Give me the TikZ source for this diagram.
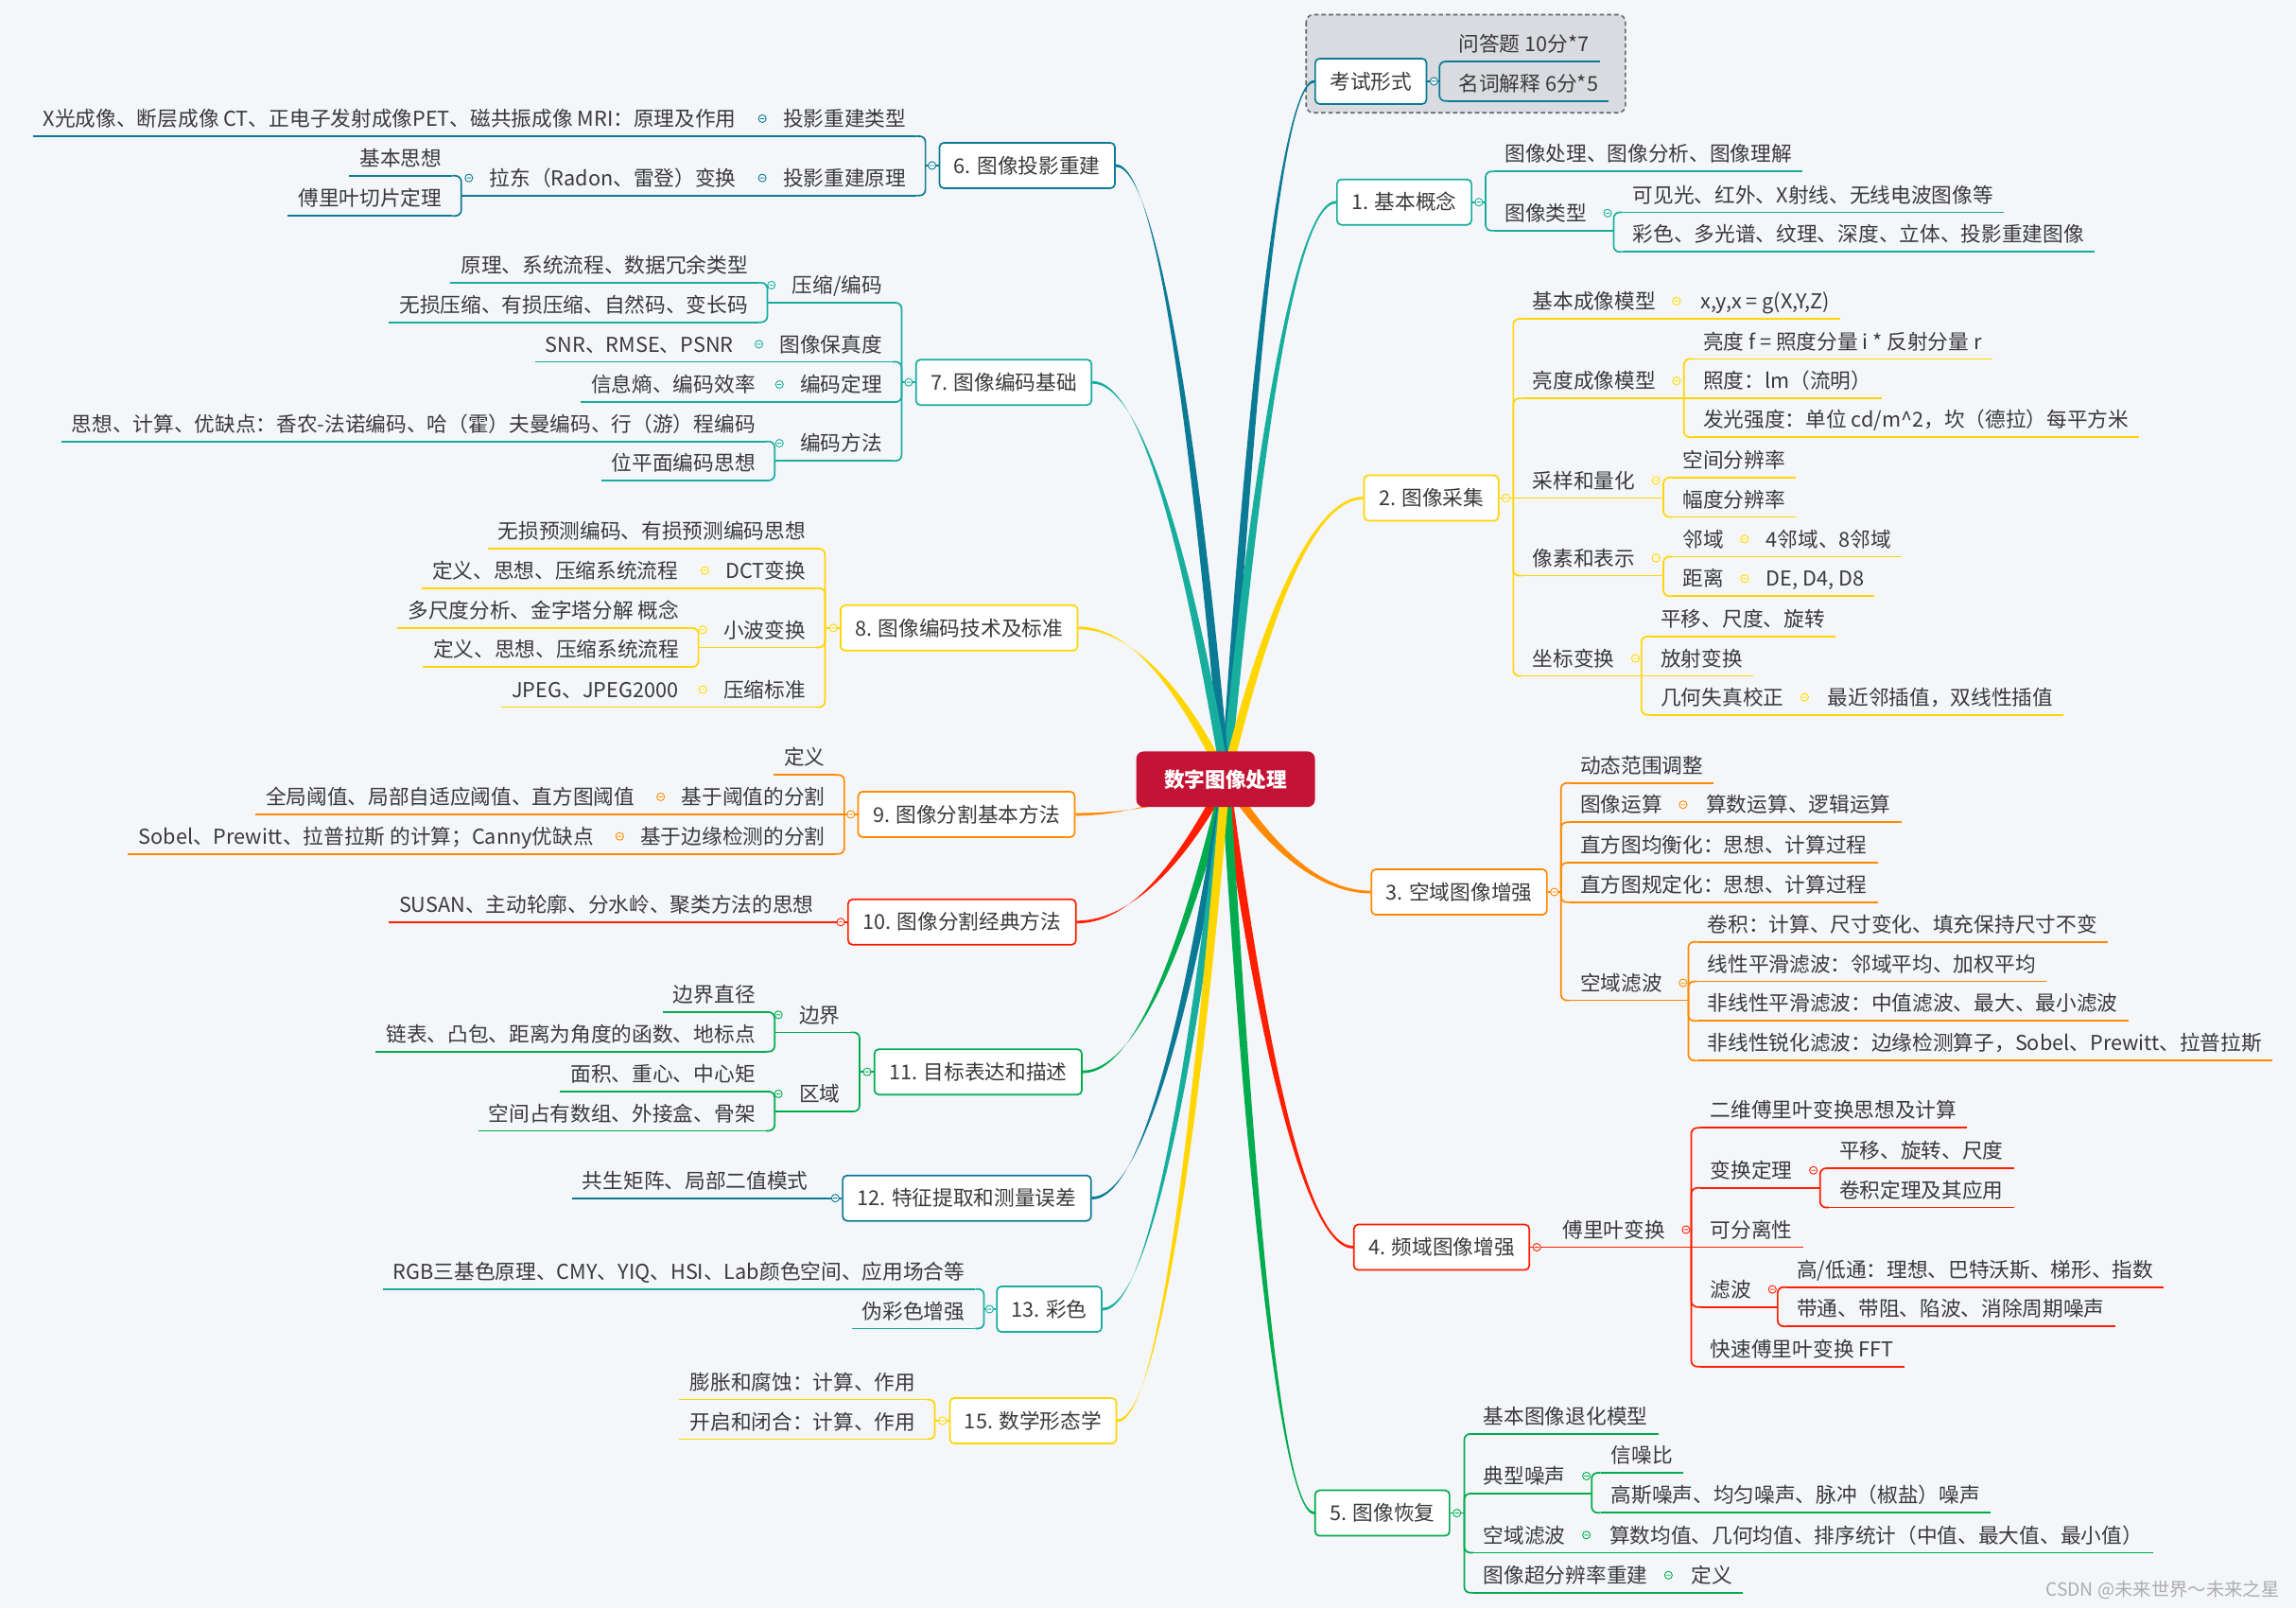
\documentclass[tikz,border=0pt]{standalone}
\usepackage{fontspec}
\setmainfont{Noto Sans CJK SC}
\usetikzlibrary{calc}

\definecolor{paper}{HTML}{F4F6FA}
\definecolor{ink}{HTML}{3A3A3A}
\definecolor{rootred}{HTML}{C41436}
\definecolor{petrol}{HTML}{0B7A95}
\definecolor{aqua}{HTML}{17AE9E}
\definecolor{sun}{HTML}{FFD600}
\definecolor{tangerine}{HTML}{FF8A00}
\definecolor{scarlet}{HTML}{FF1E00}
\definecolor{leaf}{HTML}{00AC4E}
\definecolor{grpfill}{HTML}{D9DBE0}
\definecolor{grpline}{HTML}{63676D}
\definecolor{wmgray}{HTML}{ADADAD}

\newcommand{\mapfont}{\fontsize{14}{16}\selectfont}
% small collapse marker
\newcommand{\fold}[2]{\draw[draw=#1,fill=white,line width=0.6pt] #2 circle (2.6pt) ++(-1.4,0) -- ++(2.8,0);}
% tapered main branch from the root to a topic
\newcommand{\branch}[2]{%
  \fill[#1] let \p1=(ctr), \p2=(#2),
      \p3=({0.25*(\x2-\x1)},{0.5*(\y2-\y1)}),
      \n1={veclen(\x3,\y3)},
      \p4=({-3*\y3/\n1},{3*\x3/\n1}),
      \n2={0.4*(\x2-\x1)}
    in (\x1+\x4,\y1+\y4)
      .. controls (\x1+\x3+\x4,\y1+\y3+\y4) and (\x2-\n2,\y2+0.9pt) .. (\x2,\y2+0.9pt)
      -- (\x2,\y2-0.9pt)
      .. controls (\x2-\n2,\y2-0.9pt) and (\x1+\x3-\x4,\y1+\y3-\y4) .. (\x1-\x4,\y1-\y4)
      -- cycle;}

\tikzset{
  topicbox/.style={draw=#1, fill=white, line width=1.1pt, rounded corners=3pt, inner xsep=10pt, inner ysep=0pt,
    minimum height=31pt, text height=12.3pt, text depth=1.7pt, text=ink, font=\mapfont},
  twig/.style={font=\mapfont, text=ink, inner xsep=7pt, inner ysep=0pt, text height=11pt, text depth=6.5pt,
    append after command={(\tikzlastnode.south west) edge[draw=#1, line width=1.1pt] (\tikzlastnode.south east)}},
  twigr/.style={twig=#1, anchor=south west},
  twigl/.style={twig=#1, anchor=south east},
  elbow/.style={draw=#1, line width=1.1pt, rounded corners=4pt},
  rootbox/.style={fill=rootred, text=white, font=\mapfont\bfseries, rounded corners=5pt, minimum width=122pt,
    minimum height=38pt, inner sep=0pt, text height=12.3pt, text depth=1.7pt},
}

\begin{document}
\begin{tikzpicture}[x=1pt,y=-1pt]
\fill[paper] (0,0) rectangle (1568,1098);
\useasboundingbox (0,0) rectangle (1568,1098);

% exam group
\draw[grpline, fill=grpfill, dash pattern=on 3pt off 2pt, line width=1pt, rounded corners=5pt] (892,10) rectangle (1110,77);

\coordinate (ctr) at (837,532);

% main topics
\node[topicbox=petrol] (exam) at (936.2,55.5) {考试形式};
\node[topicbox=aqua] (basic) at (959,138) {1. 基本概念};
\node[topicbox=sun] (acq) at (977.5,340) {2. 图像采集};
\node[topicbox=tangerine] (spat) at (996.5,609) {3. 空域图像增强};
\node[topicbox=scarlet] (freq) at (984.5,851.5) {4. 频域图像增强};
\node[topicbox=leaf] (rest) at (944,1033) {5. 图像恢复};
\node[topicbox=petrol] (proj) at (701.5,113) {6. 图像投影重建};
\node[topicbox=aqua] (code) at (685.5,261) {7. 图像编码基础};
\node[topicbox=sun] (std) at (655,428.7) {8. 图像编码技术及标准};
\node[topicbox=tangerine] (segb) at (660,556) {9. 图像分割基本方法};
\node[topicbox=scarlet] (segc) at (657,629.5) {10. 图像分割经典方法};
\node[topicbox=leaf] (desc) at (668,731.8) {11. 目标表达和描述};
\node[topicbox=petrol] (feat) at (660.3,818) {12. 特征提取和测量误差};
\node[topicbox=aqua] (color) at (716.6,893.8) {13. 彩色};
\node[topicbox=sun] (morph) at (705.5,970) {15. 数学形态学};

% branches
\foreach \nm/\col in {exam/petrol, basic/aqua, acq/sun, spat/tangerine, freq/scarlet, rest/leaf}
  \branch{\col}{\nm.west};
\foreach \nm/\col in {proj/petrol, code/aqua, std/sun, segb/tangerine, segc/scarlet, desc/leaf, feat/petrol, color/aqua, morph/sun}
  \branch{\col}{\nm.east};

\node[rootbox] (root) at (ctr) {数字图像处理};

% exam
\coordinate (bexam) at (983,0);
\node[twigr=petrol] (exam1) at (989,42) {问答题 10分*7};
\node[twigr=petrol] (exam2) at (989,69) {名词解释 6分*5};
\draw[elbow=petrol] (exam.east) -- (exam.east -| bexam);
\foreach \nm in {exam1,exam2} \draw[elbow=petrol] (bexam |- exam.east) |- (\nm.south west);

% 1
\coordinate (bbasic) at (1014.5,0);
\coordinate (bbasic2) at (1102,0);
\node[twigr=aqua] (basic1) at (1020.5,117) {图像处理、图像分析、图像理解};
\node[twigr=aqua] (basic2) at (1020.5,157.5) {图像类型};
\node[twigr=aqua] (basic21) at (1108,145) {可见光、红外、X射线、无线电波图像等};
\node[twigr=aqua] (basic22) at (1108,172) {彩色、多光谱、纹理、深度、立体、投影重建图像};
\draw[elbow=aqua] (basic.east) -- (basic.east -| bbasic);
\foreach \nm in {basic1,basic2} \draw[elbow=aqua] (bbasic |- basic.east) |- (\nm.south west);
\draw[elbow=aqua] (basic2.south east) -- (basic2.south east -| bbasic2);
\foreach \nm in {basic21,basic22} \draw[elbow=aqua] (bbasic2 |- basic2.south east) |- (\nm.south west);

% 2
\coordinate (bacq) at (1033.5,0);
\coordinate (bacq2) at (1150,0);
\coordinate (bacq3) at (1136,0);
\coordinate (bacq5) at (1121,0);
\node[twigr=sun] (acq1) at (1039.5,217.6) {基本成像模型};
\node[twigr=sun] (acq11) at (1154,217.6) {x,y,x = g(X,Y,Z)};
\node[twigr=sun] (acq2) at (1039.5,272) {亮度成像模型};
\node[twigr=sun] (acq21) at (1156,245) {亮度 f = 照度分量 i * 反射分量 r};
\node[twigr=sun] (acq22) at (1156,272) {照度：lm（流明）};
\node[twigr=sun] (acq23) at (1156,298.5) {发光强度：单位 cd/m\textasciicircum 2，坎（德拉）每平方米};
\node[twigr=sun] (acq3) at (1039.5,340) {采样和量化};
\node[twigr=sun] (acq31) at (1142,326) {空间分辨率};
\node[twigr=sun] (acq32) at (1142,353) {幅度分辨率};
\node[twigr=sun] (acq4) at (1039.5,393) {像素和表示};
\node[twigr=sun] (acq41) at (1142,380) {邻域};
\node[twigr=sun] (acq411) at (1199,380) {4邻域、8邻域};
\node[twigr=sun] (acq42) at (1142,407) {距离};
\node[twigr=sun] (acq421) at (1199,407) {DE, D4, D8};
\node[twigr=sun] (acq5) at (1039.5,461.5) {坐标变换};
\node[twigr=sun] (acq51) at (1127,434.5) {平移、尺度、旋转};
\node[twigr=sun] (acq52) at (1127,461.5) {放射变换};
\node[twigr=sun] (acq53) at (1127,488) {几何失真校正};
\node[twigr=sun] (acq531) at (1241,488) {最近邻插值，双线性插值};
\draw[elbow=sun] (acq.east) -- (acq3.south west);
\foreach \nm in {acq1,acq2,acq4,acq5} \draw[elbow=sun] (bacq |- acq.east) |- (\nm.south west);
\draw[elbow=sun] (acq1.south east) -- (acq11.south west);
\draw[elbow=sun] (acq2.south east) -- (acq22.south west);
\foreach \nm in {acq21,acq23} \draw[elbow=sun] (bacq2 |- acq2.south east) |- (\nm.south west);
\draw[elbow=sun] (acq3.south east) -- (acq3.south east -| bacq3);
\foreach \nm in {acq31,acq32} \draw[elbow=sun] (bacq3 |- acq3.south east) |- (\nm.south west);
\draw[elbow=sun] (acq4.south east) -- (acq4.south east -| bacq3);
\foreach \nm in {acq41,acq42} \draw[elbow=sun] (bacq3 |- acq4.south east) |- (\nm.south west);
\draw[elbow=sun] (acq41.south east) -- (acq411.south west);
\draw[elbow=sun] (acq42.south east) -- (acq421.south west);
\draw[elbow=sun] (acq5.south east) -- (acq52.south west);
\foreach \nm in {acq51,acq53} \draw[elbow=sun] (bacq5 |- acq5.south east) |- (\nm.south west);
\draw[elbow=sun] (acq53.south east) -- (acq531.south west);

% 3
\coordinate (bspat) at (1066,0);
\coordinate (bspat5) at (1153,0);
\node[twigr=tangerine] (spat1) at (1072,534.6) {动态范围调整};
\node[twigr=tangerine] (spat2) at (1072,561.4) {图像运算};
\node[twigr=tangerine] (spat21) at (1158,561.4) {算数运算、逻辑运算};
\node[twigr=tangerine] (spat3) at (1072,589) {直方图均衡化：思想、计算过程};
\node[twigr=tangerine] (spat4) at (1072,616) {直方图规定化：思想、计算过程};
\node[twigr=tangerine] (spat5) at (1072,683) {空域滤波};
\node[twigr=tangerine] (spat51) at (1159,643) {卷积：计算、尺寸变化、填充保持尺寸不变};
\node[twigr=tangerine] (spat52) at (1159,670) {线性平滑滤波：邻域平均、加权平均};
\node[twigr=tangerine] (spat53) at (1159,697) {非线性平滑滤波：中值滤波、最大、最小滤波};
\node[twigr=tangerine] (spat54) at (1159,724) {非线性锐化滤波：边缘检测算子，Sobel、Prewitt、拉普拉斯};
\draw[elbow=tangerine] (spat.east) -- (spat.east -| bspat);
\foreach \nm in {spat1,spat2,spat3,spat4,spat5} \draw[elbow=tangerine] (bspat |- spat.east) |- (\nm.south west);
\draw[elbow=tangerine] (spat2.south east) -- (spat21.south west);
\draw[elbow=tangerine] (spat5.south east) -- (spat5.south east -| bspat5);
\foreach \nm in {spat51,spat52,spat53,spat54} \draw[elbow=tangerine] (bspat5 |- spat5.south east) |- (\nm.south west);

% 4
\coordinate (bfreq1) at (1155,0);
\coordinate (bfreq12) at (1243,0);
\coordinate (bfreq14) at (1214,0);
\node[twigr=scarlet] (freq1) at (1060,851.5) {傅里叶变换};
\node[twigr=scarlet] (freq11) at (1161,770) {二维傅里叶变换思想及计算};
\node[twigr=scarlet] (freq12) at (1161,811) {变换定理};
\node[twigr=scarlet] (freq121) at (1249,797.6) {平移、旋转、尺度};
\node[twigr=scarlet] (freq122) at (1249,824.4) {卷积定理及其应用};
\node[twigr=scarlet] (freq13) at (1161,851.5) {可分离性};
\node[twigr=scarlet] (freq14) at (1161,892.3) {滤波};
\node[twigr=scarlet] (freq141) at (1220,878.7) {高/低通：理想、巴特沃斯、梯形、指数};
\node[twigr=scarlet] (freq142) at (1220,905.5) {带通、带阻、陷波、消除周期噪声};
\node[twigr=scarlet] (freq15) at (1161,933) {快速傅里叶变换 FFT};
\draw[elbow=scarlet] (freq.east) -- (freq1.south west);
\draw[elbow=scarlet] (freq1.south east) -- (freq13.south west);
\foreach \nm in {freq11,freq12,freq14,freq15} \draw[elbow=scarlet] (bfreq1 |- freq1.south east) |- (\nm.south west);
\draw[elbow=scarlet] (freq12.south east) -- (freq12.south east -| bfreq12);
\foreach \nm in {freq121,freq122} \draw[elbow=scarlet] (bfreq12 |- freq12.south east) |- (\nm.south west);
\draw[elbow=scarlet] (freq14.south east) -- (freq14.south east -| bfreq14);
\foreach \nm in {freq141,freq142} \draw[elbow=scarlet] (bfreq14 |- freq14.south east) |- (\nm.south west);

% 5
\coordinate (brest) at (1000,0);
\coordinate (brest2) at (1087,0);
\node[twigr=leaf] (rest1) at (1006,979) {基本图像退化模型};
\node[twigr=leaf] (rest2) at (1006,1019.7) {典型噪声};
\node[twigr=leaf] (rest21) at (1093,1005.5) {信噪比};
\node[twigr=leaf] (rest22) at (1093,1032.8) {高斯噪声、均匀噪声、脉冲（椒盐）噪声};
\node[twigr=leaf] (rest3) at (1006,1060) {空域滤波};
\node[twigr=leaf] (rest31) at (1092,1060) {算数均值、几何均值、排序统计（中值、最大值、最小值）};
\node[twigr=leaf] (rest4) at (1006,1087.4) {图像超分辨率重建};
\node[twigr=leaf] (rest41) at (1148,1087.4) {定义};
\draw[elbow=leaf] (rest.east) -- (rest.east -| brest);
\foreach \nm in {rest1,rest2,rest3,rest4} \draw[elbow=leaf] (brest |- rest.east) |- (\nm.south west);
\draw[elbow=leaf] (rest2.south east) -- (rest2.south east -| brest2);
\foreach \nm in {rest21,rest22} \draw[elbow=leaf] (brest2 |- rest2.south east) |- (\nm.south west);
\draw[elbow=leaf] (rest3.south east) -- (rest31.south west);
\draw[elbow=leaf] (rest4.south east) -- (rest41.south west);

% 6
\coordinate (bproj) at (632,0);
\coordinate (bproj21) at (315,0);
\node[twigl=petrol] (proj1) at (626,93) {投影重建类型};
\node[twigl=petrol] (proj11) at (510,93) {X光成像、断层成像 CT、正电子发射成像PET、磁共振成像 MRI：原理及作用};
\node[twigl=petrol] (proj2) at (626,133.5) {投影重建原理};
\node[twigl=petrol] (proj21) at (510,133.5) {拉东（Radon、雷登）变换};
\node[twigl=petrol] (proj211) at (309,120) {基本思想};
\node[twigl=petrol] (proj212) at (309,147.4) {傅里叶切片定理};
\draw[elbow=petrol] (proj.west) -- (proj.west -| bproj);
\foreach \nm in {proj1,proj2} \draw[elbow=petrol] (bproj |- proj.west) |- (\nm.south east);
\draw[elbow=petrol] (proj1.south west) -- (proj11.south east);
\draw[elbow=petrol] (proj2.south west) -- (proj21.south east);
\draw[elbow=petrol] (proj21.south west) -- (proj21.south west -| bproj21);
\foreach \nm in {proj211,proj212} \draw[elbow=petrol] (bproj21 |- proj21.south west) |- (\nm.south east);

% 7
\coordinate (bcode) at (615.7,0);
\coordinate (bcode1) at (524,0);
\coordinate (bcode4) at (529,0);
\node[twigl=aqua] (code1) at (609.7,206.7) {压缩/编码};
\node[twigl=aqua] (code11) at (518,193) {原理、系统流程、数据冗余类型};
\node[twigl=aqua] (code12) at (518,220) {无损压缩、有损压缩、自然码、变长码};
\node[twigl=aqua] (code2) at (609.7,247) {图像保真度};
\node[twigl=aqua] (code21) at (508,247) {SNR、RMSE、PSNR};
\node[twigl=aqua] (code3) at (609.7,274.5) {编码定理};
\node[twigl=aqua] (code31) at (523,274.5) {信息熵、编码效率};
\node[twigl=aqua] (code4) at (609.7,314.6) {编码方法};
\node[twigl=aqua] (code41) at (523,301.4) {思想、计算、优缺点：香农-法诺编码、哈（霍）夫曼编码、行（游）程编码};
\node[twigl=aqua] (code42) at (523,328) {位平面编码思想};
\draw[elbow=aqua] (code.west) -- (code.west -| bcode);
\foreach \nm in {code1,code2,code3,code4} \draw[elbow=aqua] (bcode |- code.west) |- (\nm.south east);
\draw[elbow=aqua] (code1.south west) -- (code1.south west -| bcode1);
\foreach \nm in {code11,code12} \draw[elbow=aqua] (bcode1 |- code1.south west) |- (\nm.south east);
\draw[elbow=aqua] (code2.south west) -- (code21.south east);
\draw[elbow=aqua] (code3.south west) -- (code31.south east);
\draw[elbow=aqua] (code4.south west) -- (code4.south west -| bcode4);
\foreach \nm in {code41,code42} \draw[elbow=aqua] (bcode4 |- code4.south west) |- (\nm.south east);

% 8
\coordinate (bstd) at (563.4,0);
\coordinate (bstd3) at (477,0);
\node[twigl=sun] (std1) at (557.4,374.6) {无损预测编码、有损预测编码思想};
\node[twigl=sun] (std2) at (557.4,401.5) {DCT变换};
\node[twigl=sun] (std21) at (470.4,401.5) {定义、思想、压缩系统流程};
\node[twigl=sun] (std3) at (557.4,442) {小波变换};
\node[twigl=sun] (std31) at (471,428.8) {多尺度分析、金字塔分解 概念};
\node[twigl=sun] (std32) at (471,455.3) {定义、思想、压缩系统流程};
\node[twigl=sun] (std4) at (557.4,482.8) {压缩标准};
\node[twigl=sun] (std41) at (470.4,482.8) {JPEG、JPEG2000};
\draw[elbow=sun] (std.west) -- (std.west -| bstd);
\foreach \nm in {std1,std2,std3,std4} \draw[elbow=sun] (bstd |- std.west) |- (\nm.south east);
\draw[elbow=sun] (std2.south west) -- (std21.south east);
\draw[elbow=sun] (std3.south west) -- (std3.south west -| bstd3);
\foreach \nm in {std31,std32} \draw[elbow=sun] (bstd3 |- std3.south west) |- (\nm.south east);
\draw[elbow=sun] (std4.south west) -- (std41.south east);

% 9
\coordinate (bsegb) at (576.6,0);
\node[twigl=tangerine] (segb1) at (570.6,529) {定义};
\node[twigl=tangerine] (segb2) at (570.6,556) {基于阈值的分割};
\node[twigl=tangerine] (segb21) at (440.7,556) {全局阈值、局部自适应阈值、直方图阈值};
\node[twigl=tangerine] (segb3) at (570.6,583) {基于边缘检测的分割};
\node[twigl=tangerine] (segb31) at (412.7,583) {Sobel、Prewitt、拉普拉斯 的计算；Canny优缺点};
\draw[elbow=tangerine] (segb.west) -- (segb2.south east);
\foreach \nm in {segb1,segb3} \draw[elbow=tangerine] (bsegb |- segb.west) |- (\nm.south east);
\draw[elbow=tangerine] (segb2.south west) -- (segb21.south east);
\draw[elbow=tangerine] (segb3.south west) -- (segb31.south east);

% 10
\node[twigl=scarlet] (segc1) at (563,629.5) {SUSAN、主动轮廓、分水岭、聚类方法的思想};
\draw[elbow=scarlet] (segc.west) -- (segc1.south east);

% 11
\coordinate (bdesc) at (587,0);
\coordinate (bdesc1) at (529,0);
\node[twigl=leaf] (desc1) at (581,704.8) {边界};
\node[twigl=leaf] (desc11) at (523,691) {边界直径};
\node[twigl=leaf] (desc12) at (523,718) {链表、凸包、距离为角度的函数、地标点};
\node[twigl=leaf] (desc2) at (581,758.8) {区域};
\node[twigl=leaf] (desc21) at (523,745.2) {面积、重心、中心矩};
\node[twigl=leaf] (desc22) at (523,772) {空间占有数组、外接盒、骨架};
\draw[elbow=leaf] (desc.west) -- (desc.west -| bdesc);
\foreach \nm in {desc1,desc2} \draw[elbow=leaf] (bdesc |- desc.west) |- (\nm.south east);
\draw[elbow=leaf] (desc1.south west) -- (desc1.south west -| bdesc1);
\foreach \nm in {desc11,desc12} \draw[elbow=leaf] (bdesc1 |- desc1.south west) |- (\nm.south east);
\draw[elbow=leaf] (desc2.south west) -- (desc2.south west -| bdesc1);
\foreach \nm in {desc21,desc22} \draw[elbow=leaf] (bdesc1 |- desc2.south west) |- (\nm.south east);

% 12
\node[twigl=petrol] (feat1) at (559,818) {共生矩阵、局部二值模式};
\draw[elbow=petrol] (feat.west) -- (feat1.south east);

% 13
\coordinate (bcolor) at (672,0);
\node[twigl=aqua] (color1) at (666,880) {RGB三基色原理、CMY、YIQ、HSI、Lab颜色空间、应用场合等};
\node[twigl=aqua] (color2) at (666,907) {伪彩色增强};
\draw[elbow=aqua] (color.west) -- (color.west -| bcolor);
\foreach \nm in {color1,color2} \draw[elbow=aqua] (bcolor |- color.west) |- (\nm.south east);

% 15
\coordinate (bmorph) at (638.4,0);
\node[twigl=sun] (morph1) at (632.4,955.5) {膨胀和腐蚀：计算、作用};
\node[twigl=sun] (morph2) at (632.4,982.5) {开启和闭合：计算、作用};
\draw[elbow=sun] (morph.west) -- (morph.west -| bmorph);
\foreach \nm in {morph1,morph2} \draw[elbow=sun] (bmorph |- morph.west) |- (\nm.south east);

% collapse markers
\foreach \nm/\col in {exam/petrol, basic/aqua, acq/sun, spat/tangerine, freq/scarlet, rest/leaf}
  \fold{\col}{($(\nm.east)+(4.5,0)$)};
\foreach \nm/\col in {proj/petrol, code/aqua, std/sun, segb/tangerine, segc/scarlet, desc/leaf, feat/petrol, color/aqua, morph/sun}
  \fold{\col}{($(\nm.west)+(-4.5,0)$)};
\foreach \nm/\col in {basic2/aqua, acq1/sun, acq2/sun, acq3/sun, acq4/sun, acq41/sun, acq42/sun, acq5/sun, acq53/sun,
    spat2/tangerine, spat5/tangerine, freq1/scarlet, freq12/scarlet, freq14/scarlet, rest2/leaf, rest3/leaf, rest4/leaf}
  \fold{\col}{($(\nm.south east)+(7,-12)$)};
\foreach \nm/\col in {proj1/petrol, proj2/petrol, proj21/petrol, code1/aqua, code2/aqua, code3/aqua, code4/aqua,
    std2/sun, std3/sun, std4/sun, segb2/tangerine, segb3/tangerine, desc1/leaf, desc2/leaf}
  \fold{\col}{($(\nm.south west)+(-7,-12)$)};

\node[text=wmgray, font=\fontsize{12.5}{14}\selectfont, anchor=east, inner sep=0pt] (wm) at (1557,1085.6) {CSDN @未来世界～未来之星};
\end{tikzpicture}
\end{document}
